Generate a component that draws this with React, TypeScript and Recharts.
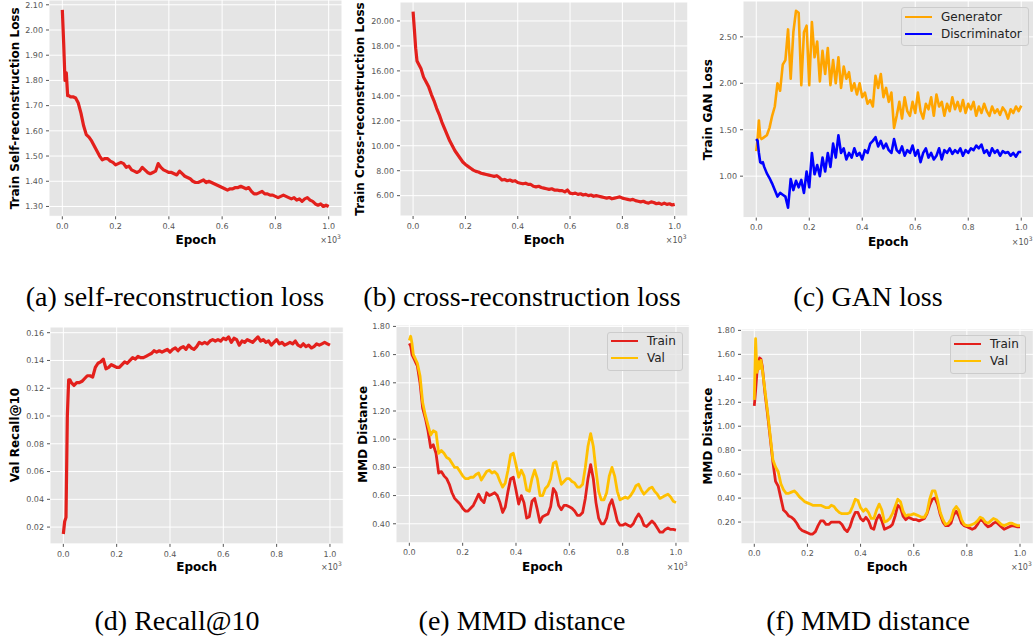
import React from "react";
import { CartesianGrid, Legend, Line, LineChart, XAxis, YAxis } from "recharts";

// epoch positions (x10^3) shared by every curve
const EPOCHS = [
  0, 0.005, 0.01, 0.015, 0.02, 0.025, 0.03, 0.04, 0.05, 0.06, 0.07, 0.08, 0.09,
  0.1, 0.11, 0.12, 0.13, 0.14, 0.15, 0.16, 0.17, 0.18, 0.19,
  0.2, 0.21, 0.22, 0.23, 0.24, 0.25, 0.26, 0.27, 0.28, 0.29,
  0.3, 0.31, 0.32, 0.33, 0.34, 0.35, 0.36, 0.37, 0.38, 0.39,
  0.4, 0.41, 0.42, 0.43, 0.44, 0.45, 0.46, 0.47, 0.48, 0.49,
  0.5, 0.51, 0.52, 0.53, 0.54, 0.55, 0.56, 0.57, 0.58, 0.59,
  0.6, 0.61, 0.62, 0.63, 0.64, 0.65, 0.66, 0.67, 0.68, 0.69,
  0.7, 0.71, 0.72, 0.73, 0.74, 0.75, 0.76, 0.77, 0.78, 0.79,
  0.8, 0.81, 0.82, 0.83, 0.84, 0.85, 0.86, 0.87, 0.88, 0.89,
  0.9, 0.91, 0.92, 0.93, 0.94, 0.95, 0.96, 0.97, 0.98, 0.99,
  1.0,
];

const selfRecon = [
  2.08, 1.95, 1.8, 1.83, 1.74, 1.74, 1.735, 1.735, 1.73, 1.71, 1.67, 1.62, 1.585,
  1.575, 1.56, 1.54, 1.52, 1.5, 1.485, 1.49, 1.49, 1.48, 1.475,
  1.465, 1.47, 1.475, 1.47, 1.455, 1.46, 1.445, 1.44, 1.435, 1.44,
  1.455, 1.445, 1.435, 1.43, 1.435, 1.44, 1.47, 1.455, 1.445, 1.44,
  1.435, 1.435, 1.43, 1.425, 1.44, 1.43, 1.42, 1.415, 1.41, 1.4,
  1.395, 1.395, 1.4, 1.405, 1.395, 1.4, 1.395, 1.39, 1.385, 1.38,
  1.375, 1.37, 1.365, 1.37, 1.37, 1.375, 1.375, 1.38, 1.375, 1.37,
  1.375, 1.36, 1.35, 1.35, 1.355, 1.36, 1.35, 1.35, 1.345, 1.345,
  1.34, 1.335, 1.34, 1.345, 1.34, 1.335, 1.33, 1.335, 1.325, 1.33,
  1.32, 1.33, 1.335, 1.325, 1.32, 1.31, 1.305, 1.31, 1.3, 1.305,
  1.3,
];

const crossRecon = [
  20.75, 19.3, 17.8, 16.8, 16.6, 16.4, 16.2, 15.5, 15.1, 14.7, 14.1, 13.6, 13.0,
  12.5, 11.9, 11.4, 10.9, 10.4, 10.0, 9.6, 9.3, 9.0, 8.7,
  8.5, 8.35, 8.2, 8.05, 7.95, 7.9, 7.8, 7.75, 7.7, 7.65,
  7.6, 7.55, 7.6, 7.45, 7.25, 7.3, 7.2, 7.25, 7.15, 7.2,
  7.05, 7.0, 6.95, 7.0, 6.9, 6.9, 6.75, 6.7, 6.75, 6.65,
  6.6, 6.55, 6.5, 6.55, 6.45, 6.45, 6.4, 6.4, 6.3, 6.45,
  6.2, 6.15, 6.2, 6.1, 6.15, 6.05, 6.1, 6.0, 6.05, 5.95,
  6.0, 5.95, 5.9, 5.85, 5.8, 5.85, 5.75, 5.8, 5.85, 5.9,
  5.8, 5.75, 5.7, 5.65, 5.7, 5.6, 5.55, 5.5, 5.55, 5.45,
  5.4, 5.5, 5.45, 5.35, 5.4, 5.3, 5.4, 5.3, 5.35, 5.25,
  5.3,
];

const generator = [
  1.27, 1.4, 1.6, 1.42, 1.4, 1.41, 1.42, 1.44, 1.52, 1.65, 1.75, 2.0, 1.92,
  2.2, 2.25, 2.58, 2.05, 2.55, 2.78, 2.76, 1.98, 2.55, 2.62,
  1.98, 2.66, 2.28, 2.45, 2.02, 2.35, 2.1, 2.38, 1.98, 2.25,
  2.0, 2.28, 1.95, 2.18, 2.05, 2.12, 1.92, 2.0, 1.88, 2.0,
  1.85, 1.9, 1.78, 1.82, 1.75, 2.08, 1.95, 2.1, 1.85, 1.95,
  1.8, 1.9, 1.52, 1.65, 1.8, 1.62, 1.85, 1.7, 1.65, 1.8,
  1.68, 1.9, 1.7, 1.62, 1.78, 1.72, 1.85, 1.65, 1.88, 1.75,
  1.8, 1.65, 1.78, 1.7, 1.85, 1.72, 1.8, 1.7, 1.82, 1.68,
  1.78, 1.72, 1.8, 1.65, 1.75, 1.68, 1.78, 1.7, 1.65, 1.75,
  1.68, 1.72, 1.66, 1.74, 1.7, 1.62, 1.72, 1.68, 1.75, 1.7,
  1.76,
];

const discriminator = [
  1.4, 1.38, 1.25, 1.15, 1.14, 1.15, 1.1, 1.03, 0.98, 0.92, 0.85, 0.78, 0.82,
  0.8, 0.78, 0.66, 0.97, 0.85, 0.95, 0.88, 0.96, 0.82, 1.05,
  0.88, 1.25, 1.02, 1.12, 1.0, 1.2, 1.05, 1.25, 1.1, 1.35,
  1.2, 1.44, 1.25, 1.3, 1.18, 1.25, 1.2, 1.3, 1.22, 1.25,
  1.18, 1.28, 1.25, 1.35, 1.38, 1.42, 1.32, 1.38, 1.3, 1.35,
  1.28, 1.25, 1.4, 1.28, 1.25, 1.32, 1.22, 1.28, 1.25, 1.33,
  1.22, 1.28, 1.15, 1.25, 1.3, 1.2, 1.25, 1.18, 1.22, 1.3,
  1.18, 1.28, 1.25, 1.3, 1.24, 1.28, 1.25, 1.3, 1.22, 1.28,
  1.25, 1.3, 1.28, 1.33, 1.3, 1.34, 1.25, 1.28, 1.22, 1.3,
  1.25, 1.28, 1.22, 1.27, 1.25, 1.26, 1.22, 1.25, 1.21, 1.26,
  1.26,
];

const recall10 = [
  0.015, 0.024, 0.027, 0.1, 0.126, 0.126, 0.124, 0.122, 0.124, 0.124, 0.125, 0.127, 0.129,
  0.129, 0.128, 0.135, 0.138, 0.139, 0.141, 0.134, 0.135, 0.137, 0.136,
  0.135, 0.135, 0.137, 0.139, 0.138, 0.14, 0.142, 0.141, 0.143, 0.142,
  0.142, 0.143, 0.144, 0.145, 0.147, 0.146, 0.147, 0.146, 0.147, 0.148,
  0.146, 0.148, 0.149, 0.147, 0.149, 0.15, 0.148, 0.151, 0.149, 0.148,
  0.15, 0.153, 0.152, 0.153, 0.152, 0.154, 0.155, 0.154, 0.155, 0.154,
  0.156, 0.155, 0.157, 0.153, 0.156, 0.155, 0.151, 0.154, 0.153, 0.155,
  0.154, 0.153, 0.155, 0.157, 0.154, 0.155, 0.153, 0.154, 0.151, 0.153,
  0.155, 0.152, 0.153, 0.151, 0.152, 0.153, 0.152, 0.154, 0.151, 0.15,
  0.152, 0.15, 0.151, 0.149, 0.15, 0.152, 0.151, 0.152, 0.153, 0.152,
  0.151,
];

const mmdTrainE = [
  1.68, 1.66, 1.6, 1.58, 1.56, 1.54, 1.52, 1.4, 1.22, 1.15, 1.06, 0.94, 0.96,
  0.9, 0.76, 0.77, 0.74, 0.72, 0.68, 0.62, 0.58, 0.56, 0.54,
  0.51, 0.49, 0.49, 0.51, 0.53, 0.57, 0.61, 0.57, 0.55, 0.62,
  0.6, 0.61, 0.62, 0.6, 0.55, 0.48, 0.52, 0.63, 0.72, 0.73,
  0.64, 0.54, 0.6, 0.55, 0.44, 0.45, 0.56, 0.58, 0.5, 0.41,
  0.45, 0.46, 0.47, 0.52, 0.65, 0.62, 0.53, 0.5, 0.53, 0.53,
  0.52, 0.51, 0.49, 0.46, 0.46, 0.48, 0.58, 0.72, 0.82, 0.72,
  0.55, 0.44, 0.4, 0.4, 0.44, 0.53, 0.57, 0.5, 0.42, 0.39,
  0.39, 0.4, 0.39, 0.38, 0.4, 0.44, 0.47, 0.44, 0.39, 0.38,
  0.4, 0.42, 0.4, 0.37, 0.34, 0.34, 0.36, 0.37, 0.36, 0.36,
  0.355,
];

const mmdValE = [
  1.7, 1.73, 1.68, 1.6, 1.58, 1.56, 1.54, 1.45, 1.26, 1.17, 1.1, 1.03, 1.06,
  1.05, 0.9, 0.92, 0.9, 0.87, 0.86, 0.83, 0.8, 0.8, 0.77,
  0.74, 0.72, 0.72, 0.73, 0.73, 0.75, 0.76, 0.71, 0.74, 0.77,
  0.78, 0.76, 0.77, 0.75, 0.7, 0.66, 0.69, 0.78, 0.89, 0.9,
  0.82, 0.73, 0.78, 0.74, 0.64, 0.63, 0.72, 0.78, 0.72, 0.6,
  0.6, 0.65, 0.67, 0.72, 0.83, 0.84, 0.76, 0.68, 0.7, 0.72,
  0.72, 0.7, 0.69, 0.66, 0.66, 0.68, 0.8, 0.95, 1.04, 0.95,
  0.78, 0.63, 0.57, 0.57, 0.62, 0.74, 0.8, 0.74, 0.63, 0.57,
  0.58, 0.59, 0.58, 0.6, 0.63, 0.67, 0.68, 0.64, 0.61, 0.63,
  0.65, 0.66, 0.63, 0.61, 0.58, 0.59, 0.6, 0.61, 0.59, 0.56,
  0.55,
];

const mmdTrainF = [
  1.17, 1.3, 1.45, 1.52, 1.57, 1.56, 1.5, 1.28, 1.1, 0.9, 0.7, 0.54, 0.5,
  0.4, 0.3, 0.28, 0.25, 0.24, 0.22, 0.19, 0.15, 0.13, 0.12,
  0.11, 0.1, 0.1, 0.12, 0.17, 0.21, 0.21, 0.18, 0.18, 0.2,
  0.2, 0.2, 0.2, 0.18, 0.14, 0.12, 0.16, 0.23, 0.28, 0.28,
  0.23, 0.21, 0.24, 0.21, 0.15, 0.14, 0.22, 0.26, 0.21, 0.14,
  0.15, 0.16, 0.18, 0.25, 0.34, 0.32, 0.25, 0.22, 0.24, 0.23,
  0.22, 0.22, 0.21, 0.22, 0.23, 0.27, 0.34, 0.39, 0.4, 0.35,
  0.26, 0.2, 0.17, 0.17, 0.19, 0.26, 0.29, 0.25, 0.19, 0.17,
  0.16, 0.15, 0.14, 0.15, 0.18, 0.22, 0.21, 0.18, 0.16, 0.17,
  0.19, 0.2, 0.18, 0.16, 0.14, 0.15, 0.16, 0.17, 0.165, 0.16,
  0.16,
];

const mmdValF = [
  1.22, 1.73, 1.45, 1.54, 1.48, 1.55, 1.48, 1.3, 1.12, 0.92, 0.72, 0.66, 0.62,
  0.52, 0.47, 0.44, 0.44, 0.45, 0.46, 0.44, 0.41, 0.39, 0.37,
  0.36, 0.35, 0.34, 0.34, 0.34, 0.34, 0.33, 0.32, 0.32, 0.34,
  0.33, 0.3, 0.28, 0.27, 0.27, 0.27, 0.28, 0.33, 0.39, 0.38,
  0.32, 0.29, 0.31, 0.28, 0.23, 0.23, 0.3, 0.35, 0.3, 0.2,
  0.21, 0.23, 0.27, 0.33, 0.39, 0.37, 0.29, 0.25, 0.26, 0.26,
  0.27, 0.26, 0.25, 0.24, 0.24, 0.28, 0.39, 0.46, 0.46, 0.38,
  0.28, 0.22, 0.18, 0.19, 0.22, 0.3, 0.33, 0.3, 0.22, 0.18,
  0.17, 0.17, 0.18, 0.19, 0.21, 0.24, 0.23, 0.2, 0.19, 0.21,
  0.23, 0.22, 0.2, 0.18, 0.17, 0.18, 0.19, 0.19, 0.18, 0.17,
  0.17,
];

const X_TICKS = [0, 0.2, 0.4, 0.6, 0.8, 1.0];
const X_DOMAIN = [-0.05, 1.05];
const A_TICKS = [1.3, 1.4, 1.5, 1.6, 1.7, 1.8, 1.9, 2.0, 2.1];
const B_TICKS = [6, 8, 10, 12, 14, 16, 18, 20];
const C_TICKS = [1.0, 1.5, 2.0, 2.5];
const D_TICKS = [0.02, 0.04, 0.06, 0.08, 0.1, 0.12, 0.14, 0.16];
const E_TICKS = [0.4, 0.6, 0.8, 1.0, 1.2, 1.4, 1.6, 1.8];
const F_TICKS = [0.2, 0.4, 0.6, 0.8, 1.0, 1.2, 1.4, 1.6, 1.8];

const RED = "#E3201C";
const GOLD = "#FFC000";
const ORANGE = "#FFA500";
const BLUE = "#0000FF";

const Y_AXIS_W = 45;
const M_TOP = 4;
const M_RIGHT = 4;
const X_AXIS_H = 20;
const M_BOTTOM = 2;

const tickStyle = { fill: "#555555", fontSize: 8, fontFamily: "DejaVu Sans" };

type Series = { key: string; name: string; color: string; width: number };

interface PanelProps {
  plotLeft: number;
  plotTop: number;
  plotW: number;
  plotH: number;
  yDomain: number[];
  yTicks: number[];
  rows: any[];
  series: Series[];
  legendAt?: { x: number; y: number };
}

// legend keeps the series' own drawing order, not alphabetical
const LegendBox = ({ payload, order }: any) => {
  const items = [...(payload || [])].sort(
    (a: any, b: any) => order.indexOf(a.value) - order.indexOf(b.value)
  );
  return (
    <div
      style={{
        background: "rgba(229,229,229,0.8)",
        border: "1px solid #cccccc",
        borderRadius: 3,
        padding: "0 6px 3px 3px",
        fontFamily: "DejaVu Sans",
        fontSize: 12,
        color: "#222",
        whiteSpace: "nowrap",
      }}
    >
      {items.map((e: any) => (
        <div key={e.value} style={{ display: "flex", alignItems: "center", height: 17 }}>
          <span
            style={{
              display: "inline-block",
              width: 27,
              height: 0,
              borderTop: `2.6px solid ${e.color}`,
              marginRight: 9,
            }}
          />
          {e.value}
        </div>
      ))}
    </div>
  );
};

const Panel: React.FC<PanelProps> = (p) => {
  const W = Y_AXIS_W + p.plotW + M_RIGHT;
  const H = M_TOP + p.plotH + X_AXIS_H + M_BOTTOM;
  const left = p.plotLeft - Y_AXIS_W;
  const top = p.plotTop - M_TOP;
  const order = p.series.map((s) => s.name);
  return (
    <div style={{ position: "absolute", left, top, width: W, height: H }}>
      <LineChart
        width={W}
        height={H}
        data={p.rows}
        margin={{ top: M_TOP, right: M_RIGHT, bottom: M_BOTTOM, left: 0 }}
      >
        <CartesianGrid fill="#E5E5E5" stroke="#ffffff" strokeWidth={1} />
        <XAxis
          type="number"
          dataKey="x"
          domain={X_DOMAIN}
          ticks={X_TICKS}
          interval={0}
          allowDataOverflow
          tickFormatter={(v: number) => v.toFixed(1)}
          axisLine={false}
          tickLine={{ stroke: "#555555" }}
          tickSize={3}
          tickMargin={4}
          tick={tickStyle}
          height={X_AXIS_H}
        />
        <YAxis
          type="number"
          domain={p.yDomain}
          ticks={p.yTicks}
          interval={0}
          allowDataOverflow
          tickFormatter={(v: number) => v.toFixed(2)}
          axisLine={false}
          tickLine={{ stroke: "#555555" }}
          tickSize={3}
          tickMargin={3}
          tick={tickStyle}
          width={Y_AXIS_W}
        />
        {p.series.map((s) => (
          <Line
            key={s.key}
            type="linear"
            dataKey={s.key}
            name={s.name}
            stroke={s.color}
            strokeWidth={s.width}
            strokeLinejoin="round"
            dot={false}
            activeDot={false}
            isAnimationActive={false}
          />
        ))}
        {p.legendAt && (
          <Legend
            layout="vertical"
            align="center"
            verticalAlign="middle"
            content={<LegendBox order={order} />}
            wrapperStyle={{
              left: p.legendAt.x - left,
              top: p.legendAt.y - top,
              right: "auto",
              bottom: "auto",
              width: "auto",
              height: "auto",
            }}
          />
        )}
      </LineChart>
    </div>
  );
};

const rowsA = EPOCHS.map((x, i) => ({ x, loss: selfRecon[i] }));
const rowsB = EPOCHS.map((x, i) => ({ x, loss: crossRecon[i] }));
const rowsC = EPOCHS.map((x, i) => ({ x, gen: generator[i], dis: discriminator[i] }));
const rowsD = EPOCHS.map((x, i) => ({ x, recall: recall10[i] }));
const rowsE = EPOCHS.map((x, i) => ({ x, train: mmdTrainE[i], val: mmdValE[i] }));
const rowsF = EPOCHS.map((x, i) => ({ x, train: mmdTrainF[i], val: mmdValF[i] }));

const panels = [
  {
    id: "a", plotLeft: 49.4, plotTop: 0.2, plotW: 293, plotH: 216.3,
    yDomain: [1.261, 2.119], yTicks: A_TICKS, rows: rowsA,
    series: [{ key: "loss", name: "loss", color: RED, width: 3.2 }],
    yTitle: "Train Self-reconstruction Loss", titleGap: 34,
  },
  {
    id: "b", plotLeft: 400.2, plotTop: 2, plotW: 287.8, plotH: 214,
    yDomain: [4.37, 21.52], yTicks: B_TICKS, rows: rowsB,
    series: [{ key: "loss", name: "loss", color: RED, width: 3.2 }],
    yTitle: "Train Cross-reconstruction Loss", titleGap: 40,
  },
  {
    id: "c", plotLeft: 742.5, plotTop: 1.4, plotW: 291.5, plotH: 216.6,
    yDomain: [0.554, 2.886], yTicks: C_TICKS, rows: rowsC,
    series: [
      { key: "gen", name: "Generator", color: ORANGE, width: 2.6 },
      { key: "dis", name: "Discriminator", color: BLUE, width: 2.6 },
    ],
    legendAt: { x: 901, y: 7 },
    yTitle: "Train GAN Loss", titleGap: 34.5,
  },
  {
    id: "d", plotLeft: 50, plotTop: 326.6, plotW: 293.3, plotH: 216.9,
    yDomain: [0.0079, 0.1641], yTicks: D_TICKS, rows: rowsD,
    series: [{ key: "recall", name: "recall", color: RED, width: 3.2 }],
    yTitle: "Val Recall@10", titleGap: 35,
  },
  {
    id: "e", plotLeft: 395.7, plotTop: 325.3, plotW: 293.3, plotH: 217.8,
    yDomain: [0.265, 1.81], yTicks: E_TICKS, rows: rowsE,
    series: [
      { key: "train", name: "Train", color: RED, width: 2.8 },
      { key: "val", name: "Val", color: GOLD, width: 2.8 },
    ],
    legendAt: { x: 607, y: 332 },
    yTitle: "MMD Distance", titleGap: 33,
  },
  {
    id: "f", plotLeft: 741, plotTop: 328.6, plotW: 292.3, plotH: 214.8,
    yDomain: [0.0185, 1.8115], yTicks: F_TICKS, rows: rowsF,
    series: [
      { key: "train", name: "Train", color: RED, width: 2.8 },
      { key: "val", name: "Val", color: GOLD, width: 2.8 },
    ],
    legendAt: { x: 950, y: 335 },
    yTitle: "MMD Distance", titleGap: 33,
  },
];

const captions = [
  { text: "(a) self-reconstruction loss", x: 175, y: 306 },
  { text: "(b) cross-reconstruction loss", x: 522, y: 306 },
  { text: "(c) GAN loss", x: 868, y: 306 },
  { text: "(d) Recall@10", x: 177, y: 630 },
  { text: "(e) MMD distance", x: 522, y: 630 },
  { text: "(f) MMD distance", x: 868, y: 630 },
];

export default function App() {
  return (
    <div
      style={{
        position: "absolute",
        left: 0,
        top: 0,
        width: 1033,
        height: 641,
        background: "#ffffff",
        overflow: "hidden",
      }}
    >
      {panels.map((p) => (
        <Panel key={p.id} {...p} />
      ))}
      <svg
        width={1033}
        height={641}
        style={{ position: "absolute", left: 0, top: 0, pointerEvents: "none" }}
      >
        {panels.map((p) => {
          const cx = p.plotLeft - p.titleGap;
          const cy = p.plotTop + p.plotH / 2;
          const bottom = p.plotTop + p.plotH;
          return (
            <g key={p.id}>
              <text
                x={cx}
                y={cy}
                transform={`rotate(-90, ${cx}, ${cy})`}
                textAnchor="middle"
                dominantBaseline="central"
                fontFamily="DejaVu Sans"
                fontWeight="bold"
                fontSize={12}
                fill="#000"
              >
                {p.yTitle}
              </text>
              <text
                x={p.plotLeft + p.plotW / 2}
                y={bottom + 27.5}
                textAnchor="middle"
                fontFamily="DejaVu Sans"
                fontWeight="bold"
                fontSize={12}
                fill="#000"
              >
                Epoch
              </text>
              <text
                x={p.plotLeft + p.plotW - 1.5}
                y={bottom + 26.5}
                textAnchor="end"
                fontFamily="DejaVu Sans"
                fontSize={8}
                fill="#555555"
              >
                ×10
                <tspan fontSize={6} dy={-4}>3</tspan>
              </text>
            </g>
          );
        })}
        {captions.map((c) => (
          <text
            key={c.text}
            x={c.x}
            y={c.y}
            textAnchor="middle"
            fontFamily="Liberation Serif"
            fontSize={28}
            fill="#000"
          >
            {c.text}
          </text>
        ))}
      </svg>
    </div>
  );
}
